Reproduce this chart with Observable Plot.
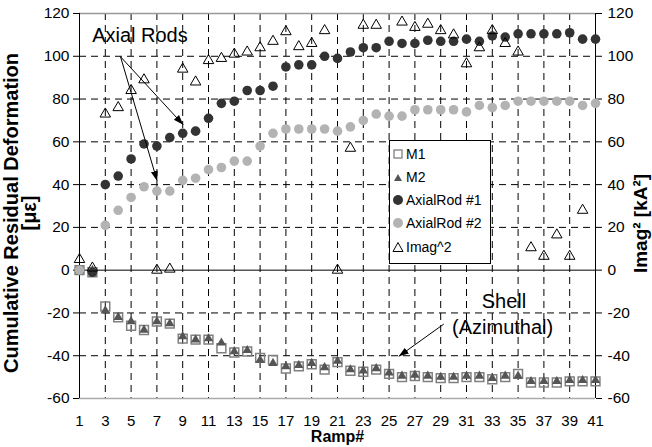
<!DOCTYPE html>
<html><head><meta charset="utf-8">
<script src="https://cdn.jsdelivr.net/npm/d3@7"></script>
<script src="https://cdn.jsdelivr.net/npm/@observablehq/plot@0.6"></script>
<style>
body{margin:0;background:#fff;font-family:"Liberation Sans",Arial,sans-serif;}
#wrap{position:relative;width:652px;height:447px;}
#legend{position:absolute;left:389px;top:140px;width:102px;height:124px;border:1px solid #000;background:#fff;box-sizing:border-box;}
.row{position:absolute;left:0;height:20px;display:flex;align-items:center;font-size:14px;color:#000;white-space:nowrap;}
.row svg{margin-left:2px;margin-right:2px;}
</style></head>
<body><div id="wrap"></div>
<script>
const ramps = [1,2,3,4,5,6,7,8,9,10,11,12,13,14,15,16,17,18,19,20,21,22,23,24,25,26,27,28,29,30,31,32,33,34,35,36,37,38,39,40,41];
const m1 = [0,-1,-17,-22,-26,-28,-24,-25,-32,-32.5,-32.5,-36.5,-38.5,-38,-41,-42,-46,-45,-44,-46.5,-43,-47,-47.5,-46.5,-48.5,-50,-49.5,-50,-50.5,-50.5,-50,-50,-51,-50,-48.5,-52.5,-52.5,-52.5,-52,-52,-52];
const m2 = [0,0,-19,-22,-24,-28,-24,-25,-31,-32.5,-32,-34,-38,-37.5,-42,-43.5,-45,-44.5,-43.5,-45.5,-42.5,-46.5,-47,-46,-48,-49.5,-49,-49.5,-50,-50,-49.5,-49.5,-50.5,-49.5,-49.5,-52,-52,-52,-51.5,-51.5,-51.5];
const axialRod1 = [0,-1,40,44,52,59,58,62,64,65,71,78,79,84,84,86,95,96,96,100,99,102,104,104,107,106,106,107.5,107,107,108,107,109.5,109,110.5,110.5,110.5,110.5,111,108,108];
const axialRod2 = [0,null,21,28,34,39,37,37,42,43,47,48,51,51,58,64,66,66,66,66,65,67,70,73,72,72,75,75,75,75,74,77,76,77,79,79,79,79,79,77,78];
const imag2 = [5,1,73,76,84,89,0,0.5,94,88,98,99,101,102,104,107,111.5,104.5,106,112,0,57,114.5,114.5,null,116,113.5,115,112,110,96.5,104,112,106,102,10.5,6.5,16.5,6.5,28,null];

const xTicks = [1,3,5,7,9,11,13,15,17,19,21,23,25,27,29,31,33,35,37,39,41];
const xGrid = [3,5,7,9,11,13,15,17,19,21,23,25,27,29,31,33,35,37,39];
const yTicks = [-60,-40,-20,0,20,40,60,80,100,120];
const yGrid = [-40,-20,20,40,60,80,100];
const legendLabels = ["M1","M2","AxialRod #1","AxialRod #2","Imag^2"];

const leftLabels = [{x:1.98, y:109.7, text:"Axial Rods"}];
const centerLabels = [
  {x:33.9, y:-14.5, text:"Shell"},
  {x:33.8, y:-27, text:"(Azimuthal)"}
];
const arrows = [
  {x1:4.18, y1:99.8, x2:9.04, y2:68.0},
  {x1:4.18, y1:99.8, x2:7.02, y2:41.7},
  {x1:29.24, y1:-25.2, x2:25.75, y2:-40.3}
];

const rows = vals => ramps.map((r,i)=>({ramp:r, v:vals[i]})).filter(d=>d.v!=null);

const plot = Plot.plot({
  width:652, height:447,
  marginLeft:79, marginRight:57, marginTop:13, marginBottom:49,
  style:{fontFamily:"'Liberation Sans', Arial, sans-serif", fontSize:"15.5px", background:"white", color:"#000", overflow:"visible"},
  x:{domain:[1,41]},
  y:{domain:[-60,120]},
  marks:[
    Plot.gridY(yGrid, {stroke:"#000", strokeOpacity:1, strokeDasharray:"7,5"}),
    Plot.gridX(xGrid, {stroke:"#000", strokeOpacity:1, strokeDasharray:"7,5"}),
    Plot.ruleY([120], {stroke:"#999", strokeWidth:1.5}),
    Plot.ruleY([-60], {stroke:"#aaa", strokeWidth:1.5}),
    Plot.ruleY([0], {stroke:"#000"}),
    Plot.ruleX([1], {stroke:"#000"}),
    Plot.ruleX([41], {stroke:"#000"}),
    Plot.axisX(xTicks, {anchor:"bottom", tickSize:0, tickPadding:17, label:null, fontSize:15, tickFormat:d=>String(d)}),
    Plot.axisY(yTicks, {anchor:"left", tickSize:6, tickPadding:4, label:null, tickFormat:d=>String(d)}),
    Plot.axisY(yTicks, {anchor:"right", tickSize:6, tickPadding:6, label:null, tickFormat:d=>String(d)}),
    Plot.dot(rows(m1), {x:"ramp", y:"v", symbol:"square", r:5, fill:"none", stroke:"#808080", strokeWidth:1.5}),
    Plot.dot(rows(m2), {x:"ramp", y:"v", symbol:"triangle", r:3.5, fill:"#555", stroke:"none"}),
    Plot.dot(rows(axialRod1), {x:"ramp", y:"v", r:4.8, fill:"#333", stroke:"none"}),
    Plot.dot(rows(axialRod2), {x:"ramp", y:"v", r:4.8, fill:"#b3b3b3", stroke:"none"}),
    Plot.dot(rows(imag2), {x:"ramp", y:"v", symbol:"triangle", r:3.9, fill:"none", stroke:"#000", strokeWidth:1}),
    Plot.text(leftLabels, {x:"x", y:"y", text:"text", textAnchor:"start", fontSize:20, fill:"#000"}),
    Plot.text(centerLabels, {x:"x", y:"y", text:"text", textAnchor:"middle", fontSize:20, fill:"#000"}),
    Plot.link(arrows, {x1:"x1", y1:"y1", x2:"x2", y2:"y2", stroke:"#000", strokeWidth:1, markerEnd:"arrow"}),
    Plot.text(["Ramp#"], {frameAnchor:"bottom", dy:38, lineAnchor:"middle", textAnchor:"middle", fontWeight:"bold", fontSize:16, fill:"#000"}),
    Plot.text(["Cumulative Residual Deformation\n[με]"], {frameAnchor:"left", rotate:-90, dx:-58, dy:7, textAnchor:"middle", lineAnchor:"middle", fontWeight:"bold", fontSize:20, lineHeight:0.9, fill:"#000"}),
    Plot.text(["Imag² [kA²]"], {frameAnchor:"right", rotate:-90, dx:45, dy:17.5, textAnchor:"middle", lineAnchor:"middle", fontWeight:"bold", fontSize:19, fill:"#000"})
  ]
});

// filled arrowheads
d3.select(plot).selectAll("marker").each(function(){
  const m = d3.select(this);
  m.attr("viewBox","-10 -5 10 10").attr("markerWidth",10).attr("markerHeight",10)
   .attr("markerUnits","userSpaceOnUse").attr("fill","#000").attr("stroke","none");
  m.selectAll("path").attr("d","M-10,-3.5L0,0L-10,3.5Z");
});

const wrap = document.getElementById("wrap");
wrap.appendChild(plot);

// legend
const legend = document.createElement("div");
legend.id = "legend";
wrap.appendChild(legend);
const sym = [
  '<rect x="2" y="2" width="8" height="8" fill="white" stroke="#808080" stroke-width="1.3"/>',
  '<path d="M6,3L10,10L2,10Z" fill="#555"/>',
  '<circle cx="6" cy="6" r="5" fill="#333"/>',
  '<circle cx="6" cy="6" r="5" fill="#b3b3b3"/>',
  '<path d="M6,1.5L11,10.5L1,10.5Z" fill="none" stroke="#000" stroke-width="1"/>'
];
const rowY = [153,176,199,222,246];
legendLabels.forEach((t,i)=>{
  const r = document.createElement("div");
  r.className = "row";
  r.style.top = (rowY[i]-140-10)+"px";
  r.innerHTML = `<svg width="12" height="12">${sym[i]}</svg><span>${t}</span>`;
  legend.appendChild(r);
});
</script>
</body></html>
